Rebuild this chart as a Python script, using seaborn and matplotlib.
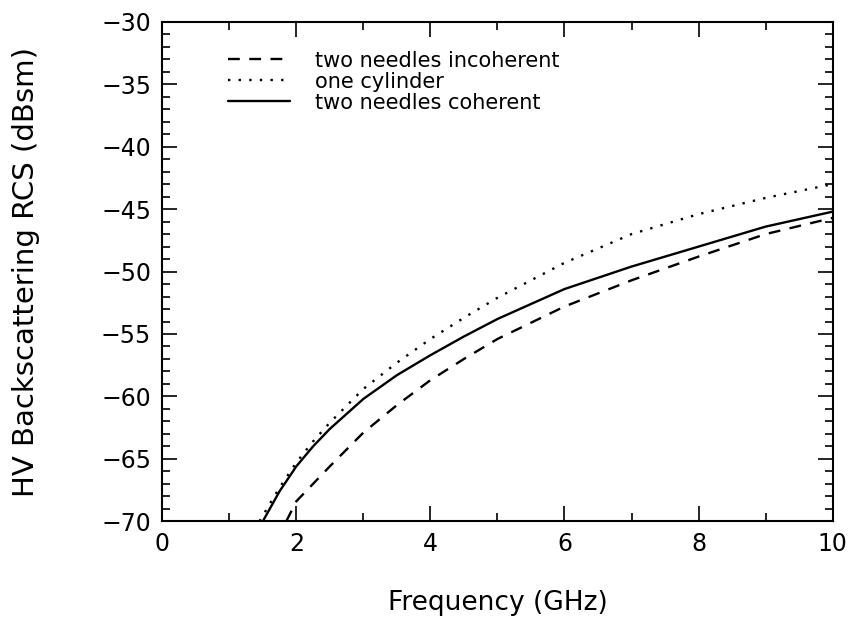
import matplotlib
matplotlib.use("Agg")
import matplotlib.pyplot as plt
import seaborn as sns
import pandas as pd
from matplotlib.ticker import MultipleLocator

# Data
freq_incoh = [1.85, 2.0, 2.25, 2.5, 3.0, 3.5, 4.0, 4.5, 5.0, 6.0, 7.0, 8.0, 9.0, 10.0]
rcs_incoh = [-70.0, -68.4, -67.0, -65.6, -62.9, -60.7, -58.7, -57.0, -55.4, -52.8, -50.7, -48.8, -47.0, -45.7]

freq_cyl = [1.45, 1.75, 2.0, 2.25, 2.5, 3.0, 3.5, 4.0, 4.5, 5.0, 6.0, 7.0, 8.0, 9.0, 10.0]
rcs_cyl = [-70.0, -67.3, -65.3, -63.6, -62.1, -59.4, -57.3, -55.4, -53.7, -52.1, -49.3, -47.0, -45.4, -44.1, -43.0]

freq_coh = [1.5, 1.75, 2.0, 2.25, 2.5, 3.0, 3.5, 4.0, 4.5, 5.0, 6.0, 7.0, 8.0, 9.0, 10.0]
rcs_coh = [-70.0, -67.6, -65.6, -64.0, -62.6, -60.2, -58.3, -56.7, -55.2, -53.8, -51.4, -49.6, -48.0, -46.4, -45.2]

labels = ["two needles incoherent", "one cylinder", "two needles coherent"]

sns.set_theme(style="ticks")
plt.rcParams['font.family'] = ['DejaVu Sans']
plt.rcParams['text.color'] = 'black'
plt.rcParams['axes.labelcolor'] = 'black'

fig = plt.figure(figsize=(8.54, 6.25), dpi=100)
ax = fig.add_axes([0.19, 0.166, 0.785, 0.799])

series = [
    (freq_incoh, rcs_incoh, labels[0], (0, (5, 4))),
    (freq_cyl, rcs_cyl, labels[1], (0, (1, 3.5))),
    (freq_coh, rcs_coh, labels[2], "-"),
]
for fx, fy, lab, ls in series:
    df = pd.DataFrame({"f": fx, "r": fy})
    sns.lineplot(data=df, x="f", y="r", ax=ax, color="black", lw=1.7,
                 linestyle=ls, label=lab)

ax.set_xlim(0, 10)
ax.set_ylim(-70, -30)
ax.xaxis.set_major_locator(MultipleLocator(2))
ax.xaxis.set_minor_locator(MultipleLocator(1))
ax.yaxis.set_major_locator(MultipleLocator(5))
ax.yaxis.set_minor_locator(MultipleLocator(1))
ax.tick_params(which="both", direction="in", top=True, right=True, width=1.2,
               labelsize=17, colors="black")
ax.tick_params(which="major", length=11, pad=8)
ax.tick_params(which="minor", length=6)
for s in ax.spines.values():
    s.set_linewidth(1.5)
    s.set_color("black")

ax.set_xlabel("Frequency (GHz)", fontsize=19, labelpad=24, color="black")
ax.set_ylabel("HV Backscattering RCS (dBsm)", fontsize=21, labelpad=44, color="black")

leg = ax.legend(loc="upper left", bbox_to_anchor=(0.07, 0.98), frameon=False,
                fontsize=15, handlelength=3.0, handletextpad=1.2,
                labelspacing=0.05)
for t in leg.get_texts():
    t.set_color("black")

fig.savefig("out.png", dpi=100)
